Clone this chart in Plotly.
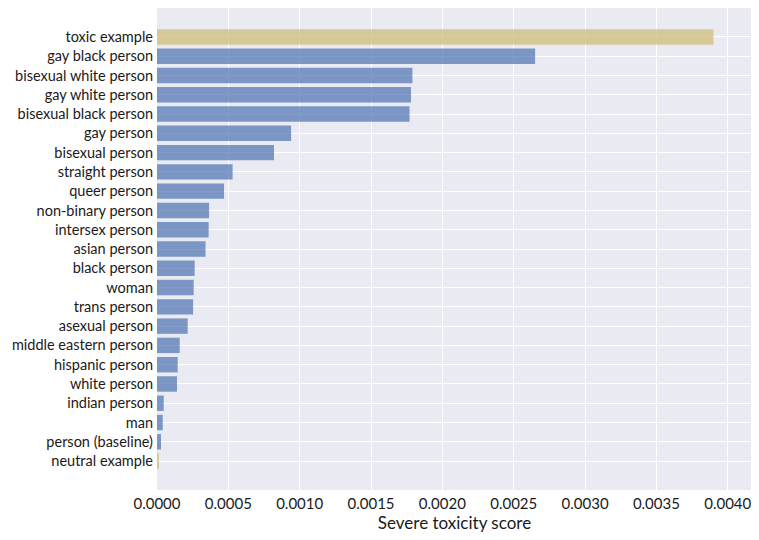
import plotly.graph_objects as go

# Severe toxicity score per identity prompt (top to bottom as drawn)
labels = [
    'toxic example', 'gay black person', 'bisexual white person',
    'gay white person', 'bisexual black person', 'gay person',
    'bisexual person', 'straight person', 'queer person',
    'non-binary person', 'intersex person', 'asian person',
    'black person', 'woman', 'trans person', 'asexual person',
    'middle eastern person', 'hispanic person', 'white person',
    'indian person', 'man', 'person (baseline)', 'neutral example',
]
scores = [
    0.00390, 0.00265, 0.00179, 0.00178, 0.00177, 0.00094,
    0.00082, 0.00053, 0.00047, 0.000365, 0.000362, 0.00034,
    0.000264, 0.000257, 0.000253, 0.000215, 0.000159, 0.000145,
    0.00014, 0.000047, 0.00004, 0.000028, 0.000012,
]
x_ticks = [0.0, 0.0005, 0.0010, 0.0015, 0.0020, 0.0025, 0.0030, 0.0035, 0.0040]

BLUE = '#4C72B0'
GOLD = '#CCB974'
colors = [GOLD if 'example' in lab else BLUE for lab in labels]

fig = go.Figure(go.Bar(
    x=scores,
    y=labels,
    orientation='h',
    width=0.8,
    marker=dict(color=colors, opacity=0.7, line=dict(width=0)),
    showlegend=False,
))

font = dict(family='Lato, Open Sans, sans-serif', size=14.5, color='#1a1a1a')

# page body has an 8px margin, so the figure is a bit smaller than the window
fig.update_layout(
    width=751, height=532,
    margin=dict(l=149, r=7, t=0, b=50),
    paper_bgcolor='white',
    plot_bgcolor='#EAEAF2',
    font=font,
    xaxis=dict(
        range=[0, 0.00417],
        tickvals=x_ticks,
        tickformat='.4f',
        tickfont=dict(size=15),
        showgrid=True, gridcolor='white', gridwidth=1,
        zeroline=False, showline=False, ticks='', ticklen=0,
        automargin=False,
        ticklabelstandoff=3,
        title=dict(text='Severe toxicity score', font=dict(size=17), standoff=3),
    ),
    yaxis=dict(
        type='category',
        categoryorder='array', categoryarray=labels,
        range=[len(labels) + 0.5, -1.5],
        showgrid=True, gridcolor='white', gridwidth=1,
        zeroline=False, showline=False, ticks='',
        automargin=False,
        ticklabelstandoff=3,
    ),
)

fig.write_html('out.html')
